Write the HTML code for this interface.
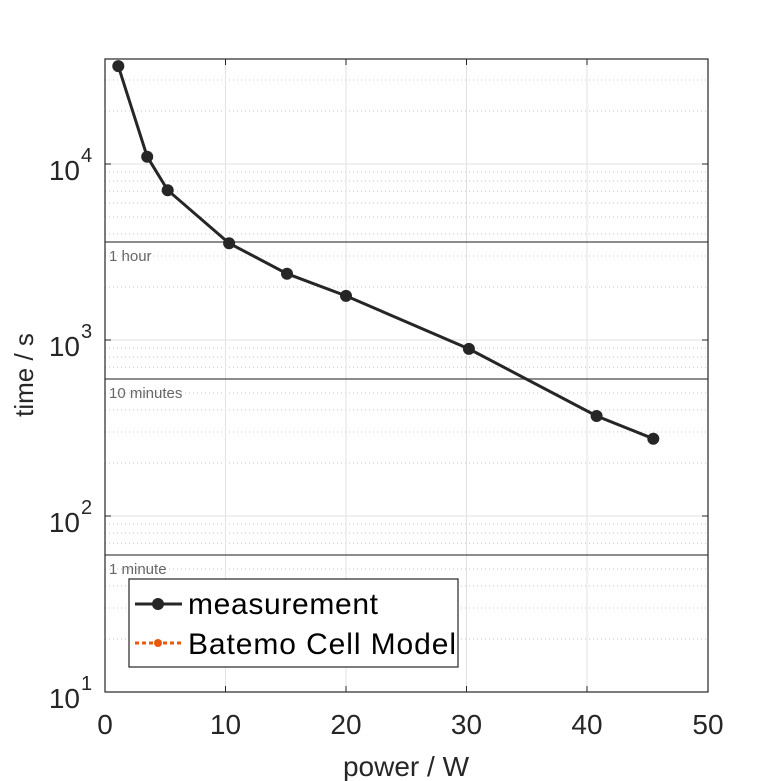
<!DOCTYPE html>
<html><head><style>body{margin:0;background:#fff}svg{display:block}</style></head><body>
<svg width="781" height="781" xmlns="http://www.w3.org/2000/svg" font-family="Liberation Sans, sans-serif">
<rect width="781" height="781" fill="#fff"/>
<g stroke="#c4c4c4" stroke-width="1" stroke-dasharray="1,3">
<line x1="105" x2="708" y1="639" y2="639"/><line x1="105" x2="708" y1="608" y2="608"/><line x1="105" x2="708" y1="586" y2="586"/><line x1="105" x2="708" y1="569" y2="569"/><line x1="105" x2="708" y1="543.3" y2="543.3"/><line x1="105" x2="708" y1="533.1" y2="533.1"/><line x1="105" x2="708" y1="524.1" y2="524.1"/>
<line x1="105" x2="708" y1="463" y2="463"/><line x1="105" x2="708" y1="432" y2="432"/><line x1="105" x2="708" y1="410" y2="410"/><line x1="105" x2="708" y1="393" y2="393"/><line x1="105" x2="708" y1="367.3" y2="367.3"/><line x1="105" x2="708" y1="357.1" y2="357.1"/><line x1="105" x2="708" y1="348.1" y2="348.1"/>
<line x1="105" x2="708" y1="287" y2="287"/><line x1="105" x2="708" y1="256" y2="256"/><line x1="105" x2="708" y1="234" y2="234"/><line x1="105" x2="708" y1="217" y2="217"/><line x1="105" x2="708" y1="203" y2="203"/><line x1="105" x2="708" y1="191.3" y2="191.3"/><line x1="105" x2="708" y1="181.1" y2="181.1"/><line x1="105" x2="708" y1="172.1" y2="172.1"/>
<line x1="105" x2="708" y1="111" y2="111"/><line x1="105" x2="708" y1="80" y2="80"/>
</g>
<g stroke="#e2e2e2" stroke-width="1">
<line x1="105" x2="708" y1="516" y2="516"/><line x1="105" x2="708" y1="340" y2="340"/><line x1="105" x2="708" y1="164" y2="164"/>
<line x1="225.5" x2="225.5" y1="59" y2="692"/><line x1="346" x2="346" y1="59" y2="692"/><line x1="466.5" x2="466.5" y1="59" y2="692"/><line x1="587" x2="587" y1="59" y2="692"/>
</g>
<g stroke="#666" stroke-width="1.5">
<line x1="105" x2="708" y1="242" y2="242"/><line x1="105" x2="708" y1="379" y2="379"/><line x1="105" x2="708" y1="555" y2="555"/>
</g>
<g font-size="15" fill="#666">
<text x="109" y="261">1 hour</text><text x="109" y="398">10 minutes</text><text x="109" y="574">1 minute</text>
</g>
<polyline fill="none" stroke="#262626" stroke-width="3" points="118.3,66.1 147.2,156.7 167.7,190.2 229.1,243.2 287,273.7 346,295.9 468.9,348.9 596.6,416 653.3,438.7"/>
<g fill="#262626">
<circle cx="118.3" cy="66.1" r="6"/><circle cx="147.2" cy="156.7" r="6"/><circle cx="167.7" cy="190.2" r="6"/><circle cx="229.1" cy="243.2" r="6"/><circle cx="287" cy="273.7" r="6"/><circle cx="346" cy="295.9" r="6"/><circle cx="468.9" cy="348.9" r="6"/><circle cx="596.6" cy="416" r="6"/><circle cx="653.3" cy="438.7" r="6"/>
</g>
<g stroke="#262626" stroke-width="1">
<line x1="225.5" x2="225.5" y1="692" y2="686"/><line x1="346" x2="346" y1="692" y2="686"/><line x1="466.5" x2="466.5" y1="692" y2="686"/><line x1="587" x2="587" y1="692" y2="686"/>
<line x1="225.5" x2="225.5" y1="59" y2="65"/><line x1="346" x2="346" y1="59" y2="65"/><line x1="466.5" x2="466.5" y1="59" y2="65"/><line x1="587" x2="587" y1="59" y2="65"/>
<line x1="105" x2="111" y1="516" y2="516"/><line x1="105" x2="111" y1="340" y2="340"/><line x1="105" x2="111" y1="164" y2="164"/>
<line x1="708" x2="702" y1="516" y2="516"/><line x1="708" x2="702" y1="340" y2="340"/><line x1="708" x2="702" y1="164" y2="164"/>
</g>
<g font-size="28" fill="#262626" text-anchor="middle">
<text x="105" y="734">0</text><text x="225.5" y="734">10</text><text x="346" y="734">20</text><text x="466.5" y="734">30</text><text x="587" y="734">40</text><text x="708" y="734">50</text>
</g>
<g font-size="28" fill="#262626" text-anchor="end">
<text x="80" y="708">10</text><text x="80" y="532">10</text><text x="80" y="356">10</text><text x="80" y="180">10</text>
</g>
<g font-size="20" fill="#262626">
<text x="81" y="690">1</text><text x="81" y="514">2</text><text x="81" y="338">3</text><text x="81" y="162">4</text>
</g>
<rect x="105" y="59" width="603" height="633" fill="none" stroke="#262626" stroke-width="1.2"/>
<rect x="129" y="579" width="329" height="88" fill="#fff" stroke="#262626" stroke-width="1.2"/>
<line x1="135" x2="182" y1="604" y2="604" stroke="#262626" stroke-width="3"/><circle cx="158" cy="604" r="6" fill="#262626"/><text x="188" y="614" font-size="30" fill="#000" textLength="190">measurement</text>
<line x1="135" x2="182" y1="643" y2="643" stroke="#e8590c" stroke-width="3" stroke-dasharray="4,3"/><circle cx="158" cy="643" r="4" fill="#e8590c"/><text x="188" y="654" font-size="30" fill="#000" textLength="268">Batemo Cell Model</text>
<text x="406" y="776" font-size="28" fill="#262626" text-anchor="middle">power / W</text>
<text transform="translate(33,375) rotate(-90)" font-size="26" fill="#262626" text-anchor="middle">time / s</text>
</svg>
</body></html>
